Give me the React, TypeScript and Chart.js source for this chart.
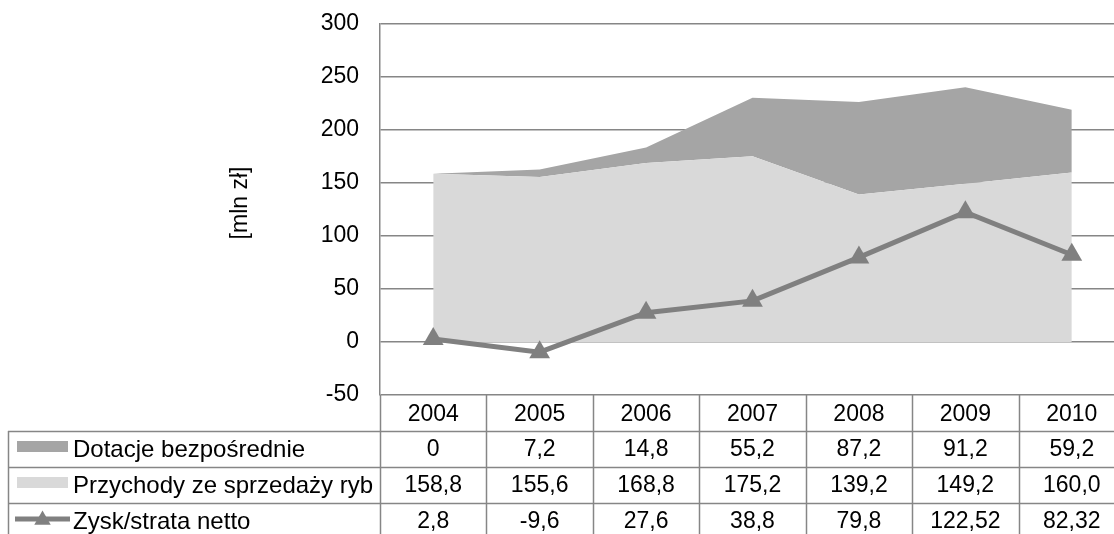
import React, { useEffect, useRef } from "react";
import { Chart, registerables } from "chart.js";

Chart.register(...registerables);

const years = ["2004", "2005", "2006", "2007", "2008", "2009", "2010"];
const dotacje = [0, 7.2, 14.8, 55.2, 87.2, 91.2, 59.2];
const przychody = [158.8, 155.6, 168.8, 175.2, 139.2, 149.2, 160.0];
const zysk = [2.8, -9.6, 27.6, 38.8, 79.8, 122.52, 82.32];
const yMin = -50;
const yMax = 300;
const yStep = 50;
const yTitle = "[mln zł]";
const nameDotacje = "Dotacje bezpośrednie";
const namePrzychody = "Przychody ze sprzedaży ryb";
const nameZysk = "Zysk/strata netto";

const FONT = "'Liberation Sans', Arial, sans-serif";
const FONT_SIZE = 23;
const LEGEND_FONT_SIZE = 24;
const DARK = "#a5a5a5";
const LIGHT = "#d9d9d9";
const LINE = "#808080";
const GRID = "#868686";

const W = 1137;
const H = 540;

const fmt = (v: number, fixed?: number) =>
  (fixed !== undefined ? v.toFixed(fixed) : String(v)).replace(".", ",");

const tablePlugin = {
  id: "dataTable",
  afterDraw(chart: any) {
    const ctx = chart.ctx as CanvasRenderingContext2D;
    const ca = chart.chartArea;
    const xs = chart.scales.x;
    const n = years.length;
    const colW = (ca.right - ca.left) / n;
    const rowH = 36;
    const top = ca.bottom;
    const tableLeft = 8;
    const legendTextX = 73;

    ctx.save();
    ctx.strokeStyle = GRID;
    ctx.lineWidth = 1.5;
    for (let i = 0; i <= n; i++) {
      const x = Math.round(xs.getPixelForValue(0) - colW / 2 + i * colW) + 0.5;
      ctx.beginPath();
      ctx.moveTo(x, top);
      ctx.lineTo(x, top + 4 * rowH);
      ctx.stroke();
    }
    ctx.beginPath();
    ctx.moveTo(tableLeft + 0.5, top + rowH);
    ctx.lineTo(tableLeft + 0.5, top + 4 * rowH);
    ctx.stroke();
    for (let r = 1; r <= 3; r++) {
      const y = Math.round(top + r * rowH) + 0.5;
      ctx.beginPath();
      ctx.moveTo(tableLeft, y);
      ctx.lineTo(ca.right, y);
      ctx.stroke();
    }

    ctx.fillStyle = "#000";
    ctx.font = `${FONT_SIZE}px ${FONT}`;
    ctx.textBaseline = "middle";
    ctx.textAlign = "center";
    const rows: string[][] = [
      dotacje.map((v) => fmt(v)),
      przychody.map((v) => fmt(v, 1)),
      zysk.map((v) => fmt(v)),
    ];
    years.forEach((yr, i) => {
      const cx = xs.getPixelForValue(i);
      ctx.fillText(yr, cx, top + rowH / 2 + 2);
      rows.forEach((row, r) => {
        ctx.fillText(row[i], cx, top + (r + 1.5) * rowH + 1);
      });
    });

    const names = [nameDotacje, namePrzychody, nameZysk];
    ctx.textAlign = "left";
    ctx.font = `${LEGEND_FONT_SIZE}px ${FONT}`;
    names.forEach((nm, r) => {
      const cy = top + (r + 1.5) * rowH;
      if (r === 0 || r === 1) {
        ctx.fillStyle = r === 0 ? DARK : LIGHT;
        ctx.fillRect(17, cy - 8, 51, 11);
      } else {
        ctx.strokeStyle = LINE;
        ctx.lineWidth = 5;
        ctx.beginPath();
        ctx.moveTo(15, cy - 2);
        ctx.lineTo(70, cy - 2);
        ctx.stroke();
        ctx.fillStyle = LINE;
        const tr = 9.5;
        const tx = 42.5;
        const ty = cy - 1;
        ctx.beginPath();
        ctx.moveTo(tx, ty - tr);
        ctx.lineTo(tx + tr * Math.sin(Math.PI / 3), ty + tr / 2);
        ctx.lineTo(tx - tr * Math.sin(Math.PI / 3), ty + tr / 2);
        ctx.closePath();
        ctx.fill();
      }
      ctx.fillStyle = "#000";
      ctx.fillText(nm, legendTextX, cy + 1);
    });

    ctx.save();
    ctx.translate(241, 203);
    ctx.rotate(-Math.PI / 2);
    ctx.textAlign = "center";
    ctx.textBaseline = "middle";
    ctx.font = `23px ${FONT}`;
    ctx.fillText(yTitle, 0, 0);
    ctx.restore();

    ctx.restore();
  },
};

export default function App() {
  const ref = useRef<HTMLCanvasElement | null>(null);
  useEffect(() => {
    if (!ref.current) return;
    const chart = new Chart(ref.current, {
      type: "line",
      data: {
        labels: years,
        datasets: [
          {
            label: namePrzychody,
            data: przychody,
            fill: "origin",
            backgroundColor: LIGHT,
            borderColor: "rgba(0,0,0,0)",
            borderWidth: 0,
            pointRadius: 0,
            stack: "area",
            order: 2,
            tension: 0,
          } as any,
          {
            label: nameDotacje,
            data: dotacje,
            fill: "-1",
            backgroundColor: DARK,
            borderColor: "rgba(0,0,0,0)",
            borderWidth: 0,
            pointRadius: 0,
            stack: "area",
            order: 2,
            tension: 0,
          } as any,
          {
            label: nameZysk,
            data: zysk,
            fill: false,
            borderColor: LINE,
            borderWidth: 5,
            pointStyle: "triangle",
            pointRadius: 12,
            pointBackgroundColor: LINE,
            pointBorderColor: LINE,
            pointBorderWidth: 0,
            stack: "zysk",
            order: 1,
            tension: 0,
          } as any,
        ],
      },
      options: {
        responsive: false,
        animation: false,
        devicePixelRatio: 1,
        layout: { padding: { left: 0, top: 24, right: 6, bottom: 145 } },
        plugins: {
          legend: { display: false },
          tooltip: { enabled: false },
          title: { display: false },
        },
        scales: {
          x: { type: "category", offset: true, display: false },
          y: {
            stacked: true,
            min: yMin,
            max: yMax,
            afterFit: (s: any) => {
              s.width = 380;
              s.paddingTop = 0;
              s.paddingBottom = 0;
            },
            ticks: {
              stepSize: yStep,
              padding: 21,
              color: "#000",
              font: { family: FONT, size: FONT_SIZE },
            },
            grid: { color: GRID, lineWidth: 1.5, drawTicks: false },
            border: { color: GRID, width: 1.5 },
          },
        },
      },
      plugins: [tablePlugin],
    });
    return () => chart.destroy();
  }, []);

  return (
    <div
      style={{
        position: "fixed",
        left: 0,
        top: 0,
        width: 1114,
        height: 534,
        overflow: "hidden",
        background: "#fff",
      }}
    >
      <canvas ref={ref} width={W} height={H} style={{ width: W, height: H, display: "block" }} />
    </div>
  );
}
